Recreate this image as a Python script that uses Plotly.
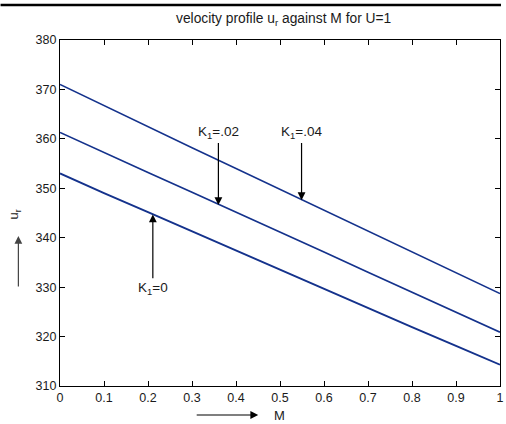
import plotly.graph_objects as go

M = [0.0, 0.1, 0.2, 0.3, 0.4, 0.5, 0.6, 0.7, 0.8, 0.9, 1.0]
u_k0 = [353.0, 349.0, 345.2, 341.3, 337.4, 333.5, 329.7, 325.8, 321.9, 318.1, 314.3]
u_k02 = [361.3, 357.2, 353.2, 349.2, 345.2, 341.1, 337.1, 333.0, 329.0, 324.9, 320.9]
u_k04 = [371.0, 366.7, 362.4, 358.2, 354.0, 349.8, 345.6, 341.4, 337.2, 333.0, 328.7]
x_ticks = [0, 0.1, 0.2, 0.3, 0.4, 0.5, 0.6, 0.7, 0.8, 0.9, 1]
x_tick_text = ["0", "0.1", "0.2", "0.3", "0.4", "0.5", "0.6", "0.7", "0.8", "0.9", "1"]
y_ticks = [310, 320, 330, 340, 350, 360, 370, 380]

LINE = "#14328c"
FONT = "Liberation Sans, Arial, sans-serif"
TXT = "#1a1a1a"

W, H = 506, 424
L, R, T, B = 60, 2, 40, 38
pw, ph = W - L - R, H - T - B

def px(xp):
    return (xp - L) / pw

def py(yp):
    return (H - B - yp) / ph

fig = go.Figure()
fig.add_trace(go.Scatter(x=M, y=u_k0, mode="lines", line=dict(color=LINE, width=1.9)))
fig.add_trace(go.Scatter(x=M, y=u_k02, mode="lines", line=dict(color=LINE, width=1.7)))
fig.add_trace(go.Scatter(x=M, y=u_k04, mode="lines", line=dict(color=LINE, width=1.5)))

axis_common = dict(showline=True, linecolor="black", linewidth=1.2, mirror="ticks",
                   ticks="inside", ticklen=5, tickcolor="black", showgrid=False, zeroline=False,
                   tickfont=dict(family=FONT, size=12.5, color=TXT))
fig.update_xaxes(range=[0, 1], tickvals=x_ticks, ticktext=x_tick_text,
                 ticklabeloverflow="allow", **axis_common)
fig.update_yaxes(range=[310, 380], tickvals=y_ticks, **axis_common)

arrow_style = dict(showarrow=True, arrowhead=2, arrowsize=1.3, arrowwidth=1.2, arrowcolor="black")
lab_font = dict(family=FONT, size=13.5, color=TXT)
ann = []
# curve labels
ann.append(dict(x=0.211, y=344.7, xref="x", yref="y", ax=0.211, ay=329.8, axref="x", ayref="y",
                text="K<sub>1</sub>=0", font=lab_font, **arrow_style))
ann.append(dict(x=0.36, y=346.6, xref="x", yref="y", ax=0.36, ay=361.2, axref="x", ayref="y",
                text="K<sub>1</sub>=.02", font=lab_font, **arrow_style))
ann.append(dict(x=0.549, y=347.6, xref="x", yref="y", ax=0.549, ay=361.2, axref="x", ayref="y",
                text="K<sub>1</sub>=.04", font=lab_font, **arrow_style))
# axis labels
ann.append(dict(x=px(281), y=py(416), xref="paper", yref="paper", text="M", showarrow=False,
                xanchor="center", yanchor="middle", font=dict(family=FONT, size=13, color=TXT)))
ann.append(dict(x=px(260), y=py(415), xref="paper", yref="paper", ax=-63, ay=0, text="",
                showarrow=True, arrowhead=2, arrowsize=1.3, arrowwidth=1.2, arrowcolor="black"))
ann.append(dict(x=px(14), y=py(214), xref="paper", yref="paper", text="u<sub>r</sub>", textangle=-90,
                showarrow=False, xanchor="center", yanchor="middle",
                font=dict(family=FONT, size=13, color=TXT)))
ann.append(dict(x=px(18), y=py(236), xref="paper", yref="paper", ax=0, ay=52, text="",
                showarrow=True, arrowhead=2, arrowsize=1.3, arrowwidth=1.2, arrowcolor="#444"))
# title
ann.append(dict(x=px(286), y=py(20), xref="paper", yref="paper",
                text="velocity profile u<sub>r</sub> against M for U=1", showarrow=False,
                xanchor="center", yanchor="middle", font=dict(family=FONT, size=13.8, color=TXT)))

fig.update_layout(
    width=W, height=H, margin=dict(l=L, r=R, t=T, b=B),
    paper_bgcolor="white", plot_bgcolor="white", showlegend=False,
    annotations=ann,
    shapes=[dict(type="line", xref="paper", yref="paper", x0=px(0), x1=px(505), y0=py(5), y1=py(5),
                 line=dict(color="black", width=2.5))],
)
fig.write_html("out.html")
